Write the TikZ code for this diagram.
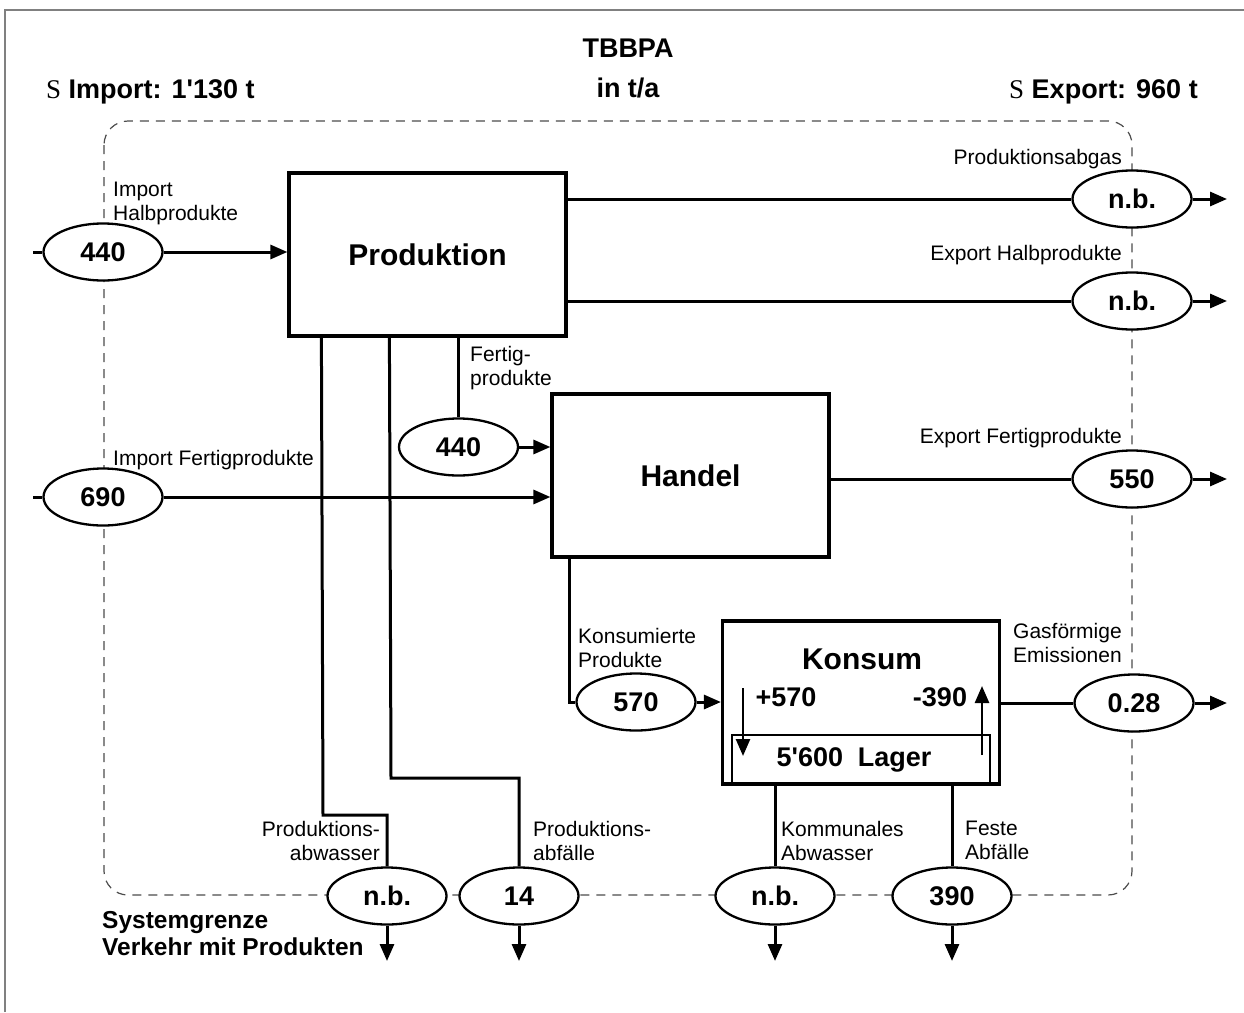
\documentclass[tikz,border=0pt]{standalone}
\usepackage{fontspec}
\setmainfont{Liberation Sans}
\newfontfamily\plainsans{Liberation Sans}
\newfontfamily\sigmafont{Liberation Serif}
\usetikzlibrary{shapes.geometric,arrows.meta}

\begin{document}
\begin{tikzpicture}[x=1pt, y=1pt,
  flow/.style={line width=3pt},
  arr/.style={flow, -{Triangle[length=17pt,width=14pt]}},
  procbox/.style={draw, line width=3.2pt, inner sep=0pt,
    minimum width=277pt, minimum height=163pt,
    font=\plainsans\fontsize{30}{36}\selectfont\bfseries},
  valnode/.style={ellipse, draw, line width=2.3pt, fill=white,
    minimum width=119pt, minimum height=57pt, inner sep=0pt,
    font=\plainsans\fontsize{27}{32}\selectfont\bfseries},
  flowlbl/.style={inner sep=0pt, font=\plainsans\fontsize{21}{24}\selectfont},
  heading/.style={inner sep=0pt, font=\plainsans\fontsize{27}{40}\selectfont\bfseries},
  boxtext/.style={inner sep=0pt, font=\plainsans\fontsize{27}{32}\selectfont\bfseries},
]
\useasboundingbox (0,0) rectangle (1244,-1012);

% page frame
\draw[gray, line width=1.4pt] (5,-1012) -- (5,-10) -- (1244,-10);

% system boundary
\draw[black!70, line width=1.2pt, dash pattern=on 9pt off 7pt, rounded corners=24pt]
  (104,-121) rectangle (1132,-895);

% headings
\node[heading, align=center, anchor=north] (title) at (628,-39) {TBBPA\\in t/a};
\node[heading, anchor=base west] (sumimport) at (46,-98) {{\sigmafont\mdseries S} Import: 1'130 t};
\node[heading, anchor=base west] (sumexport) at (1009,-98) {{\sigmafont\mdseries S} Export: 960 t};
\node[inner sep=0pt, anchor=north west, align=left,
      font=\plainsans\fontsize{24.5}{27}\selectfont\bfseries] (legend)
  at (102,-911.5) {Systemgrenze\\Verkehr mit Produkten};

% processes
\node[procbox] (prod) at (427.5,-254.5) {Produktion};
\node[procbox] (handel) at (690.5,-475.5) {Handel};
\node[procbox] (konsum) at (861,-702.5) {};
\node[boxtext, font=\plainsans\fontsize{30}{36}\selectfont\bfseries] (konsumname) at (862,-659) {Konsum};
\node[draw, line width=2.6pt, inner sep=0pt, minimum width=258pt, minimum height=49pt,
      font=\plainsans\fontsize{27}{32}\selectfont\bfseries] (lager) at (861,-759.5)
  {5'600\hspace{0.55em}Lager\kern14pt};
\node[boxtext] (zugang) at (786,-697) {+570};
\node[boxtext] (abgang) at (940,-697) {-390};

% flow values
\node[valnode] (vImpHalb) at (103,-252) {440};
\node[valnode] (vImpFert) at (103,-497) {690};
\node[valnode] (vFert) at (458.5,-447) {440};
\node[valnode] (vKons) at (636,-702) {570};
\node[valnode] (vAbgas) at (1132,-199) {n.b.};
\node[valnode] (vExpHalb) at (1132,-301) {n.b.};
\node[valnode] (vExpFert) at (1132,-479) {550};
\node[valnode] (vGas) at (1134,-703) {0.28};
\node[valnode] (vProdAbw) at (387,-896) {n.b.};
\node[valnode] (vProdAbf) at (519,-896) {14};
\node[valnode] (vKomAbw) at (775,-896) {n.b.};
\node[valnode] (vFeste) at (952,-896) {390};

% flow labels
\node[flowlbl, anchor=north west, align=left] (lImpHalb) at (113,-182) {Import\\Halbprodukte};
\node[flowlbl, anchor=base east] (lAbgas) at (1122,-164) {Produktionsabgas};
\node[flowlbl, anchor=base east] (lExpHalb) at (1122,-260) {Export Halbprodukte};
\node[flowlbl, anchor=north west, align=left] (lFert) at (470,-346) {Fertig-\\produkte};
\node[flowlbl, anchor=base west] (lImpFert) at (113,-465) {Import Fertigprodukte};
\node[flowlbl, anchor=base east] (lExpFert) at (1122,-443) {Export Fertigprodukte};
\node[flowlbl, anchor=north west, align=left] (lKons) at (578,-628) {Konsumierte\\Produkte};
\node[flowlbl, anchor=north west, align=left] (lGas) at (1013,-623) {Gasförmige\\Emissionen};
\node[flowlbl, anchor=north east, align=right] (lProdAbw) at (380,-821) {Produktions-\\abwasser};
\node[flowlbl, anchor=north west, align=left] (lProdAbf) at (533,-821) {Produktions-\\abfälle};
\node[flowlbl, anchor=north west, align=left] (lKomAbw) at (781,-821) {Kommunales\\Abwasser};
\node[flowlbl, anchor=north west, align=left] (lFeste) at (965,-821) {Feste\\Abfälle};

% free ends and bends
\coordinate (inHalb) at (33,-252);
\coordinate (inFert) at (33,-497);
\coordinate (outAbgas) at (1227,-199);
\coordinate (outExpHalb) at (1227,-301);
\coordinate (outExpFert) at (1227,-479);
\coordinate (outGas) at (1227,-703);
\coordinate (outProdAbw) at (387,-961);
\coordinate (outProdAbf) at (519,-961);
\coordinate (outKomAbw) at (775,-961);
\coordinate (outFeste) at (952,-961);
\coordinate (abwBend) at (323,-815);
\coordinate (abfBend) at (391,-778);
\coordinate (stockInTop) at (743,-688);
\coordinate (stockInEnd) at (743,-756);
\coordinate (stockOutStart) at (982,-755);
\coordinate (stockOutTop) at (982,-686);

% imports
\draw[flow] (inHalb) -- (vImpHalb.west);
\draw[arr] (vImpHalb.east) -- (vImpHalb.east -| prod.west);
\draw[flow] (inFert) -- (vImpFert.west);
\draw[arr] (vImpFert.east) -- (vImpFert.east -| handel.west);

% production outputs
\draw[flow] (vAbgas.west -| prod.east) -- (vAbgas.west);
\draw[arr] (vAbgas.east) -- (outAbgas);
\draw[flow] (vExpHalb.west -| prod.east) -- (vExpHalb.west);
\draw[arr] (vExpHalb.east) -- (outExpHalb);
\draw[flow] (vFert.north |- prod.south) -- (vFert.north);
\draw[arr] (vFert.east) -- (vFert.east -| handel.west);
\draw[flow] ([xshift=34pt]prod.south west) -- (abwBend) -| (vProdAbw.north);
\draw[flow] ([xshift=102pt]prod.south west) -- (abfBend) -| (vProdAbf.north);

% trade outputs
\draw[flow] (vExpFert.west -| handel.east) -- (vExpFert.west);
\draw[arr] (vExpFert.east) -- (outExpFert);
\draw[flow] ([xshift=19pt]handel.south west) |- (vKons.west);
\draw[arr] (vKons.east) -- (vKons.east -| konsum.west);

% consumption outputs
\draw[flow] (vGas.west -| konsum.east) -- (vGas.west);
\draw[arr] (vGas.east) -- (outGas);
\draw[flow] (vKomAbw.north |- konsum.south) -- (vKomAbw.north);
\draw[flow] (vFeste.north |- konsum.south) -- (vFeste.north);

% leaving the system downwards
\draw[arr] (vProdAbw.south) -- (outProdAbw);
\draw[arr] (vProdAbf.south) -- (outProdAbf);
\draw[arr] (vKomAbw.south) -- (outKomAbw);
\draw[arr] (vFeste.south) -- (outFeste);

% stock change
\draw[arr, line width=2.6pt] (stockInTop) -- (stockInEnd);
\draw[arr, line width=2.6pt] (stockOutStart) -- (stockOutTop);
\end{tikzpicture}
\end{document}
